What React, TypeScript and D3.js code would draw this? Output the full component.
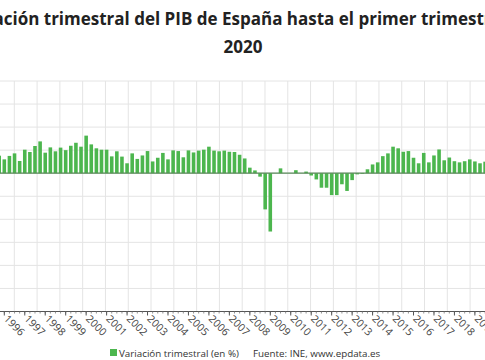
import React from "react";
import * as d3 from "d3";

const years: number[] = [1996, 1997, 1998, 1999, 2000, 2001, 2002, 2003, 2004, 2005, 2006, 2007, 2008, 2009, 2010, 2011, 2012, 2013, 2014, 2015, 2016, 2017, 2018, 2019];
const values: number[] = [
  0.76,
  0.60, 0.75, 0.86, 0.53,
  1.02, 0.92, 1.18, 1.38,
  0.89, 1.12, 0.95, 1.11,
  1.00, 1.19, 1.32, 1.15,
  1.63, 1.25, 1.08, 1.02,
  1.02, 0.73, 0.95, 0.72,
  0.43, 0.86, 0.62, 0.77,
  0.96, 0.51, 0.67, 0.88,
  0.60, 0.99, 0.96, 0.69,
  0.99, 0.90, 0.98, 1.02,
  1.15, 0.98, 0.95, 0.98,
  0.93, 0.92, 0.80, 0.64,
  0.24, 0.12, -0.15, -1.57,
  -2.53, 0.0, 0.21, 0.0,
  0.0, 0.13, 0.0, 0.07,
  -0.10, -0.27, -0.63, -0.63,
  -0.95, -0.95, -0.48, -0.77,
  -0.30, -0.05, -0.03, 0.17,
  0.38, 0.47, 0.74, 0.86,
  1.15, 1.08, 0.93, 0.96,
  0.67, 0.43, 0.88, 0.47,
  0.77, 1.03, 0.56, 0.68,
  0.52, 0.47, 0.52, 0.60,
  0.51, 0.43, 0.50,
];
const yTicks: number[] = [-6, -5, -4, -3, -2, -1, 0, 1, 2, 3, 4];
const titleLines: string[] = ["Variación trimestral del PIB de España hasta el primer trimestre de", "2020"];
const seriesName = "Variación trimestral (en %)";
const sourceText = "Fuente: INE, www.epdata.es";

// quarter labels, starting at the 4th quarter of 1995
const quarters: string[] = (() => {
  const out: string[] = [];
  let y = 1995, q = 4;
  for (let i = 0; i < values.length; i++) {
    out.push(`${y}-T${q}`);
    q++;
    if (q > 4) { q = 1; y++; }
  }
  return out;
})();

const W = 485, H = 360;
const GREEN = "#4cb64e";
const FONT = "'Open Sans', 'DejaVu Sans', sans-serif";

export default function App() {
  const step = 5.115;
  const pad = 0.3;
  const x0 = -4.13;
  const x = d3.scaleBand<string>()
    .domain(quarters)
    .range([x0, x0 + step * (quarters.length + pad)])
    .paddingInner(pad)
    .paddingOuter(pad);
  const y = d3.scaleLinear().domain([-6, 4]).range([311.5, 81]);
  const bw = x.bandwidth();
  const plotTop = y(4);
  const plotBottom = y(-6);
  const gridStep = 22.79;
  const vGrid = d3.range(14.3, W + 1, gridStep);

  return (
    <svg width={W} height={H} style={{ position: "absolute", left: 0, top: 0, background: "#fff" }} fontFamily={FONT}>
      {/* title */}
      <text x={243} y={25} textAnchor="middle" fontSize={17} fontWeight={700} fill="#222">{titleLines[0]}</text>
      <text x={243} y={53} textAnchor="middle" fontSize={17} fontWeight={700} fill="#222">{titleLines[1]}</text>

      {/* grid */}
      {yTicks.filter(t => t > -6).map(t => (
        <line key={"h" + t} x1={0} x2={W} y1={y(t)} y2={y(t)} stroke="#e4e4e4" strokeWidth={1} />
      ))}
      {vGrid.map((gx, i) => (
        <line key={"v" + i} x1={gx} x2={gx} y1={plotTop} y2={plotBottom} stroke="#e4e4e4" strokeWidth={1} />
      ))}

      {/* bars */}
      {values.map((v, i) => {
        const q = quarters[i];
        const top = y(Math.max(0, v));
        const h = Math.abs(y(v) - y(0));
        return <rect key={q} x={x(q)} y={top} width={bw} height={h} fill={GREEN} />;
      })}

      {/* zero line */}
      <line x1={0} x2={W} y1={y(0)} y2={y(0)} stroke="#5a8a5a" strokeWidth={1.2} />

      {/* x axis */}
      <line x1={0} x2={W} y1={plotBottom} y2={plotBottom} stroke="#555" strokeWidth={1} />
      {quarters.map(q => (
        <line key={"m" + q} x1={(x(q) as number) + bw / 2} x2={(x(q) as number) + bw / 2} y1={plotBottom} y2={plotBottom + 2} stroke="#777" strokeWidth={0.8} />
      ))}
      {years.map(yr => {
        const cx = (x(`${yr}-T1`) as number) + bw / 2;
        return (
          <g key={yr}>
            <line x1={cx} x2={cx} y1={plotBottom} y2={plotBottom + 4} stroke="#555" strokeWidth={1} />
            <text transform={`translate(${cx - 1},${plotBottom + 8}) rotate(45)`} fontSize={10.5} fill="#444">{yr}</text>
          </g>
        );
      })}

      {/* legend */}
      <rect x={110} y={349} width={7} height={7} fill={GREEN} />
      <text x={119} y={356.5} fontSize={9.8} fill="#333">{seriesName}</text>
      <text x={253} y={356.5} fontSize={9.8} fill="#333">{sourceText}</text>
    </svg>
  );
}
